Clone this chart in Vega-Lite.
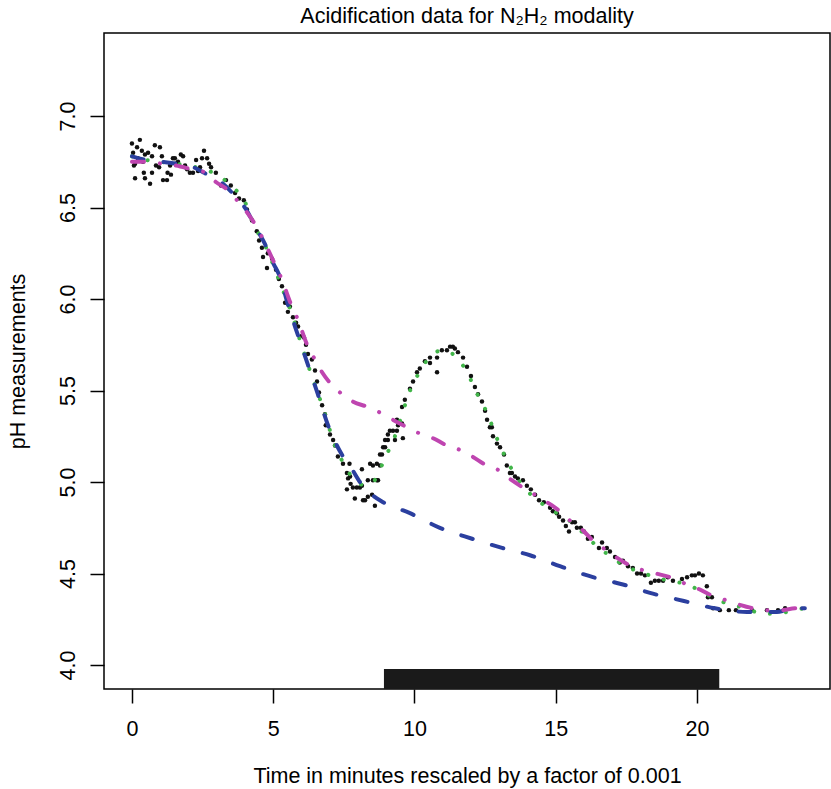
{
"$schema": "https://vega.github.io/schema/vega-lite/v6.json",
"width": 726, "height": 656,
"autosize": {"type": "none"},
"padding": {"left": 104, "top": 33, "right": 1, "bottom": 100},
"background": "white",
"config": {"view": {"stroke": "#000", "strokeWidth": 1.5}, "font": "Liberation Sans"},
"title": {"text": "Acidification data for N₂H₂ modality", "fontSize": 21.5, "fontWeight": "normal", "font": "Liberation Sans", "anchor": "middle", "offset": 6, "color": "#000"},
"datasets": {
"obs": [
{"t":0,"p":6.85},{"t":0.28,"p":6.87},{"t":0.18,"p":6.83},{"t":0.35,"p":6.81},{"t":0.04,"p":6.80},{"t":0.46,"p":6.79},{"t":0.71,"p":6.78},{"t":0.81,"p":6.84},{"t":0.99,"p":6.83},{"t":1.06,"p":6.78},{"t":0.11,"p":6.74},{"t":0.07,"p":6.73},{"t":0.39,"p":6.75},{"t":0.42,"p":6.69},{"t":0.71,"p":6.69},{"t":0.46,"p":6.66},{"t":0.11,"p":6.66},{"t":0.64,"p":6.63},{"t":0.96,"p":6.72},{"t":1.10,"p":6.65},{"t":1.24,"p":6.65},{"t":1.26,"p":6.69},{"t":1.38,"p":6.68},{"t":1.45,"p":6.77},{"t":1.52,"p":6.77},{"t":1.73,"p":6.79},{"t":1.81,"p":6.78},{"t":1.55,"p":6.74},{"t":1.63,"p":6.75},{"t":1.88,"p":6.73},{"t":1.95,"p":6.71},{"t":2.05,"p":6.69},{"t":2.16,"p":6.69},{"t":2.41,"p":6.72},{"t":2.48,"p":6.77},{"t":2.55,"p":6.81},{"t":2.66,"p":6.77},{"t":2.80,"p":6.72},{"t":2.97,"p":6.69},{"t":0.21,"p":6.77},{"t":0.57,"p":6.80},{"t":0.85,"p":6.73},{"t":1.35,"p":6.73},{"t":2.27,"p":6.76},{"t":2.34,"p":6.70},{"t":2.73,"p":6.74},
{"t":3.15,"p":6.62},{"t":3.33,"p":6.65},{"t":3.50,"p":6.62},{"t":3.65,"p":6.58},{"t":3.79,"p":6.55},{"t":3.96,"p":6.54},{"t":4.07,"p":6.49},{"t":4.25,"p":6.43},{"t":4.42,"p":6.37},{"t":4.50,"p":6.32},{"t":4.60,"p":6.28},{"t":4.64,"p":6.23},{"t":4.81,"p":6.25},{"t":4.96,"p":6.22},{"t":4.78,"p":6.17},{"t":5.10,"p":6.16},{"t":5.20,"p":6.11},{"t":5.31,"p":6.07},{"t":5.42,"p":5.98},{"t":5.52,"p":5.93},{"t":5.59,"p":5.96},{"t":5.70,"p":5.90},{"t":5.81,"p":5.87},{"t":5.88,"p":5.85},{"t":6.02,"p":5.80},{"t":6.09,"p":5.79},{"t":6.16,"p":5.75},{"t":6.23,"p":5.70},{"t":6.37,"p":5.67},{"t":6.48,"p":5.61},{"t":6.55,"p":5.55},{"t":6.62,"p":5.49},{"t":6.73,"p":5.42},{"t":6.83,"p":5.37},{"t":6.86,"p":5.31},{"t":7.01,"p":5.26},{"t":7.12,"p":5.23},{"t":7.19,"p":5.20},{"t":7.29,"p":5.14},{"t":7.47,"p":5.10},{"t":7.61,"p":5.05},{"t":7.72,"p":5.03},{"t":7.70,"p":5.10},{"t":7.65,"p":5.02},{"t":7.74,"p":4.99},{"t":7.61,"p":4.96},{"t":7.82,"p":4.97},{"t":7.89,"p":4.91},{"t":7.96,"p":4.97},{"t":8.07,"p":4.97},{"t":8.14,"p":4.98},{"t":8.14,"p":5.07},{"t":8.18,"p":4.90},{"t":8.25,"p":4.90},{"t":8.35,"p":4.92},{"t":8.35,"p":5.01},{"t":8.43,"p":5.10},{"t":8.50,"p":4.93},{"t":8.53,"p":5.01},{"t":8.53,"p":5.09},{"t":8.60,"p":4.87},{"t":8.67,"p":5.01},{"t":8.71,"p":5.01},{"t":8.67,"p":5.10},{"t":8.78,"p":5.09},{"t":8.78,"p":5.15},{"t":8.85,"p":5.15},{"t":8.89,"p":5.19},{"t":8.96,"p":5.19},{"t":8.96,"p":5.23},{"t":9.06,"p":5.23},{"t":9.06,"p":5.26},{"t":9.13,"p":5.28},{"t":9.24,"p":5.28},{"t":9.31,"p":5.23},{"t":9.38,"p":5.34},{"t":9.38,"p":5.28},{"t":9.42,"p":5.31},{"t":9.56,"p":5.32},{"t":9.56,"p":5.41},{"t":9.59,"p":5.24},{"t":9.66,"p":5.45},{"t":9.84,"p":5.51},{"t":9.95,"p":5.55},{"t":10.09,"p":5.60},{"t":10.19,"p":5.62},{"t":10.37,"p":5.66},{"t":10.55,"p":5.68},{"t":10.55,"p":5.65},{"t":10.80,"p":5.68},{"t":10.80,"p":5.60},{"t":10.97,"p":5.72},{"t":11.15,"p":5.72},{"t":11.26,"p":5.74},{"t":11.36,"p":5.74},{"t":11.43,"p":5.73},{"t":11.54,"p":5.71},{"t":11.72,"p":5.68},{"t":11.86,"p":5.63},{"t":12.00,"p":5.58},{"t":12.14,"p":5.52},{"t":12.25,"p":5.48},{"t":12.39,"p":5.44},{"t":12.50,"p":5.39},{"t":12.57,"p":5.34},{"t":12.67,"p":5.30},{"t":12.74,"p":5.30},{"t":12.78,"p":5.25},{"t":12.92,"p":5.21},{"t":13.03,"p":5.19},{"t":13.17,"p":5.15},{"t":13.27,"p":5.09},{"t":13.38,"p":5.05},{"t":13.45,"p":5.05},{"t":13.56,"p":5.03},{"t":13.66,"p":5.02},{"t":13.84,"p":5.01},{"t":13.98,"p":4.98},{"t":14.12,"p":4.96},{"t":14.27,"p":4.93},{"t":14.41,"p":4.90},{"t":14.58,"p":4.89},{"t":14.80,"p":4.86},{"t":14.90,"p":4.84},{"t":15.04,"p":4.83},{"t":15.12,"p":4.81},{"t":15.26,"p":4.79},{"t":15.36,"p":4.76},{"t":15.47,"p":4.73},{"t":15.58,"p":4.78},{"t":15.68,"p":4.78},{"t":15.75,"p":4.75},{"t":15.89,"p":4.75},{"t":16.00,"p":4.73},{"t":16.14,"p":4.69},{"t":16.28,"p":4.70},{"t":16.53,"p":4.64},{"t":16.64,"p":4.67},{"t":16.81,"p":4.64},{"t":16.92,"p":4.62},{"t":17.10,"p":4.59},{"t":17.27,"p":4.56},{"t":17.38,"p":4.57},{"t":17.56,"p":4.54},{"t":17.73,"p":4.53},{"t":17.88,"p":4.50},{"t":18.02,"p":4.50},{"t":18.16,"p":4.49},{"t":18.37,"p":4.45},{"t":18.51,"p":4.46},{"t":18.65,"p":4.46},{"t":18.80,"p":4.46},{"t":18.97,"p":4.48},{"t":19.15,"p":4.46},{"t":19.47,"p":4.47},{"t":19.65,"p":4.48},{"t":19.82,"p":4.49},{"t":19.93,"p":4.49},{"t":20.07,"p":4.50},{"t":20.21,"p":4.49},{"t":20.35,"p":4.43},{"t":20.39,"p":4.37},{"t":20.53,"p":4.37},{"t":20.57,"p":4.31},{"t":20.81,"p":4.30},{"t":21.13,"p":4.30},{"t":21.38,"p":4.30},{"t":21.95,"p":4.30},{"t":22.48,"p":4.30},{"t":22.87,"p":4.30},{"t":23.12,"p":4.31}
],
"blue": [
{"t":0,"p":6.78},{"t":0.50,"p":6.76},{"t":1.06,"p":6.75},{"t":1.56,"p":6.74},{"t":2.19,"p":6.72},{"t":2.55,"p":6.69},{"t":3.15,"p":6.64},{"t":3.72,"p":6.55},{"t":4.04,"p":6.49},{"t":4.35,"p":6.40},{"t":4.71,"p":6.30},{"t":4.99,"p":6.20},{"t":5.24,"p":6.12},{"t":5.52,"p":5.97},{"t":5.88,"p":5.80},{"t":6.23,"p":5.64},{"t":6.58,"p":5.48},{"t":6.94,"p":5.31},{"t":7.19,"p":5.22},{"t":7.43,"p":5.15},{"t":7.79,"p":5.07},{"t":8.07,"p":5.00},{"t":8.50,"p":4.93},{"t":8.89,"p":4.89},{"t":9.84,"p":4.83},{"t":10.90,"p":4.75},{"t":12.04,"p":4.69},{"t":13.10,"p":4.64},{"t":14.09,"p":4.60},{"t":15.15,"p":4.54},{"t":16.32,"p":4.48},{"t":17.38,"p":4.44},{"t":18.44,"p":4.39},{"t":19.54,"p":4.35},{"t":20.64,"p":4.31},{"t":21.77,"p":4.29},{"t":22.83,"p":4.29},{"t":23.40,"p":4.31},{"t":23.82,"p":4.31}
],
"magenta": [
{"t":0,"p":6.75},{"t":0.53,"p":6.75},{"t":1.06,"p":6.74},{"t":1.56,"p":6.73},{"t":2.09,"p":6.71},{"t":2.62,"p":6.69},{"t":2.97,"p":6.64},{"t":3.36,"p":6.60},{"t":3.72,"p":6.54},{"t":4.04,"p":6.48},{"t":4.39,"p":6.40},{"t":4.60,"p":6.34},{"t":5.06,"p":6.19},{"t":5.27,"p":6.12},{"t":5.66,"p":5.96},{"t":5.84,"p":5.90},{"t":6.23,"p":5.74},{"t":6.44,"p":5.68},{"t":6.73,"p":5.60},{"t":7.08,"p":5.53},{"t":7.36,"p":5.49},{"t":7.82,"p":5.44},{"t":8.35,"p":5.41},{"t":8.78,"p":5.38},{"t":9.24,"p":5.34},{"t":9.73,"p":5.30},{"t":10.12,"p":5.27},{"t":10.65,"p":5.24},{"t":11.15,"p":5.20},{"t":11.54,"p":5.18},{"t":12.04,"p":5.14},{"t":12.57,"p":5.09},{"t":12.92,"p":5.07},{"t":13.35,"p":5.02},{"t":13.84,"p":4.97},{"t":14.27,"p":4.93},{"t":14.69,"p":4.89},{"t":15.15,"p":4.84},{"t":15.50,"p":4.79},{"t":15.93,"p":4.74},{"t":16.32,"p":4.68},{"t":16.67,"p":4.64},{"t":17.13,"p":4.59},{"t":17.56,"p":4.55},{"t":18.05,"p":4.52},{"t":18.55,"p":4.50},{"t":19.04,"p":4.48},{"t":19.50,"p":4.45},{"t":20.00,"p":4.42},{"t":20.53,"p":4.38},{"t":20.92,"p":4.36},{"t":21.49,"p":4.33},{"t":21.98,"p":4.31},{"t":22.48,"p":4.30},{"t":23.01,"p":4.30},{"t":23.47,"p":4.31},{"t":23.79,"p":4.31}
],
"green": [
{"t":0,"p":6.78},{"t":0.50,"p":6.76},{"t":0.99,"p":6.75},{"t":1.49,"p":6.74},{"t":1.98,"p":6.73},{"t":2.51,"p":6.71},{"t":3.01,"p":6.68},{"t":3.50,"p":6.62},{"t":4.00,"p":6.53},{"t":4.28,"p":6.42},{"t":4.81,"p":6.26},{"t":5.24,"p":6.09},{"t":5.63,"p":5.93},{"t":5.98,"p":5.76},{"t":6.34,"p":5.59},{"t":6.73,"p":5.42},{"t":7.26,"p":5.17},{"t":7.54,"p":5.09},{"t":7.82,"p":5.02},{"t":8.32,"p":4.98},{"t":8.71,"p":5.04},{"t":8.92,"p":5.12},{"t":9.17,"p":5.20},{"t":9.38,"p":5.28},{"t":9.56,"p":5.37},{"t":9.73,"p":5.45},{"t":9.95,"p":5.54},{"t":10.23,"p":5.61},{"t":10.51,"p":5.68},{"t":11.01,"p":5.72},{"t":11.50,"p":5.68},{"t":11.86,"p":5.60},{"t":12.11,"p":5.52},{"t":12.35,"p":5.44},{"t":12.60,"p":5.37},{"t":12.81,"p":5.28},{"t":13.03,"p":5.20},{"t":13.27,"p":5.12},{"t":13.56,"p":5.04},{"t":14.27,"p":4.91},{"t":14.73,"p":4.86},{"t":15.72,"p":4.76},{"t":16.11,"p":4.70},{"t":16.53,"p":4.64},{"t":16.99,"p":4.59},{"t":17.45,"p":4.54},{"t":17.98,"p":4.51},{"t":18.51,"p":4.48},{"t":19.04,"p":4.46},{"t":19.65,"p":4.44},{"t":20.18,"p":4.40},{"t":20.67,"p":4.36},{"t":21.20,"p":4.33},{"t":21.77,"p":4.31},{"t":22.30,"p":4.28},{"t":22.87,"p":4.28},{"t":23.40,"p":4.30},{"t":23.82,"p":4.31}
]
},
"encoding": {
"x": {"field": "t", "type": "quantitative", "scale": {"domain": [-0.99, 24.71], "nice": false, "zero": false},
 "axis": {"title": "Time in minutes rescaled by a factor of 0.001", "values": [0,5,10,15,20], "format": "d", "domain": false, "grid": false, "tickColor": "#000", "tickSize": 14, "tickWidth": 1.5, "labelFontSize": 21.5, "labelColor": "#000", "labelPadding": 15, "labelFlush": false, "titleFontSize": 21.5, "titleFontWeight": "normal", "titleColor": "#000", "titlePadding": 26}},
"y": {"field": "p", "type": "quantitative", "scale": {"domain": [3.869, 7.454], "nice": false, "zero": false},
 "axis": {"title": "pH measurements", "values": [4,4.5,5,5.5,6,6.5,7], "format": ".1f", "domain": false, "grid": false, "tickColor": "#000", "tickSize": 14, "tickWidth": 1.5, "labelFontSize": 21.5, "labelColor": "#000", "labelAngle": -90, "labelAlign": "center", "labelBaseline": "bottom", "labelPadding": 11, "labelFlush": false, "titleFontSize": 21.5, "titleFontWeight": "normal", "titleColor": "#000", "titlePadding": 28}}
},
"layer": [
{"data": {"values": [{"t": 8.92, "t_end": 20.79, "lo": 3.869, "hi": 3.978}]}, "mark": {"type": "rect", "fill": "#1a1a1a", "stroke": null, "opacity": 1},
 "encoding": {"x": {"field": "t", "type": "quantitative"}, "x2": {"field": "t_end"}, "y": {"field": "hi", "type": "quantitative"}, "y2": {"field": "lo"}}},
{"data": {"name": "obs"}, "mark": {"type": "point", "filled": true, "color": "#111", "size": 20, "opacity": 1}},
{"data": {"name": "green"}, "mark": {"type": "line", "color": "#41B549", "strokeWidth": 4, "strokeCap": "round", "strokeDash": [0.1, 16], "interpolate": "monotone"}},
{"data": {"name": "blue"}, "mark": {"type": "line", "color": "#2B3F9F", "strokeWidth": 4, "strokeCap": "round", "strokeDash": [12, 20], "interpolate": "monotone"}},
{"data": {"name": "magenta"}, "mark": {"type": "line", "color": "#BF45B0", "strokeWidth": 4, "strokeCap": "round", "strokeDash": [12, 16, 0.1, 16], "interpolate": "monotone"}}
]
}
